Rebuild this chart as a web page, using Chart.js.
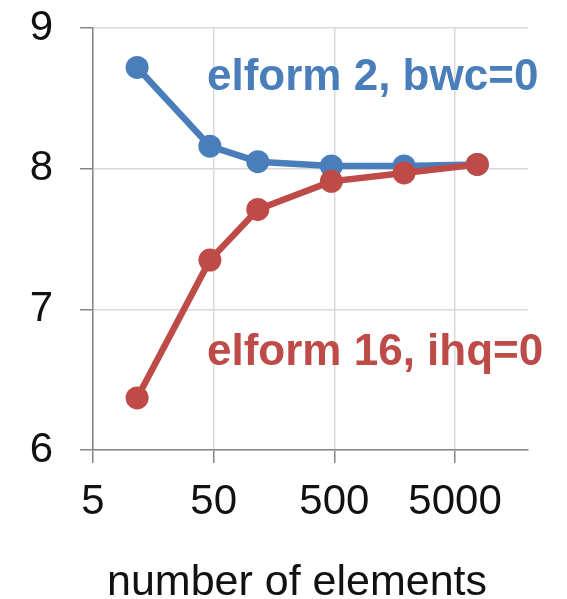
<!DOCTYPE html>
<html>
<head>
<meta charset="utf-8">
<script src="https://cdn.jsdelivr.net/npm/chart.js@4/dist/chart.umd.min.js"></script>
<style>
  body { margin: 0; background: #fff; }
  #wrap { width: 567px; height: 599px; position: relative; }
</style>
</head>
<body>
<div id="wrap"><canvas id="convChart"></canvas></div>
<script>
// mesh refinement study: number of elements vs result
const elements = [11.6, 46.5, 116, 472, 1890, 7640];
const elform2 = [8.72, 8.16, 8.05, 8.02, 8.02, 8.03];
const elform16 = [6.37, 7.35, 7.71, 7.91, 7.97, 8.03];
const xTicks = [5, 50, 500, 5000];
const yTicks = [6, 7, 8, 9];
const xTitle = 'number of elements';

const blue = '#4a7ebb';
const red = '#be4b48';
const axisGrey = '#868686';
const gridGrey = '#d9d9d9';
const font = 'Liberation Sans, Arial, sans-serif';

function pts(ys) {
    return elements.map((x, i) => ({ x: x, y: ys[i] }));
}

// series labels inside the plot, plus the x axis caption
const extraText = {
    id: 'extraText',
    afterDraw: (chart) => {
        const ctx = chart.ctx;
        ctx.save();
        ctx.textAlign = 'left';
        ctx.textBaseline = 'alphabetic';
        ctx.font = 'bold 44px ' + font;
        ctx.fillStyle = blue;
        ctx.fillText('elform 2, bwc=0', 207, 90);
        ctx.fillStyle = red;
        ctx.fillText('elform 16, ihq=0', 207, 365);

        ctx.font = '43px ' + font;
        ctx.fillStyle = '#111';
        ctx.textAlign = 'center';
        ctx.fillText(xTitle, 297, 595);
        ctx.restore();
    }
};

const ctx = document.getElementById('convChart').getContext('2d');
new Chart(ctx, {
    type: 'line',
    data: {
        datasets: [
            {
                label: 'elform 16, ihq=0',
                data: pts(elform16),
                borderColor: red,
                backgroundColor: red,
                borderWidth: 6.5,
                pointRadius: 11.5,
                pointHoverRadius: 11.5,
                pointBorderWidth: 0
            },
            {
                label: 'elform 2, bwc=0',
                data: pts(elform2),
                borderColor: blue,
                backgroundColor: blue,
                borderWidth: 6.5,
                pointRadius: 11.5,
                pointHoverRadius: 11.5,
                pointBorderWidth: 0
            }
        ]
    },
    options: {
        responsive: true,
        maintainAspectRatio: false,
        animation: false,
        layout: { padding: { top: 28, right: 39, left: 0, bottom: 0 } },
        plugins: {
            legend: { display: false },
            tooltip: { enabled: false }
        },
        scales: {
            x: {
                type: 'logarithmic',
                min: 5,
                max: 20100,
                afterBuildTicks: (scale) => {
                    scale.ticks = xTicks.map(v => ({ value: v }));
                },
                afterFit: (scale) => { scale.height = 149; },
                ticks: {
                    color: '#111',
                    font: { family: font, size: 42 },
                    padding: 14,
                    maxRotation: 0,
                    callback: (v) => String(v)
                },
                grid: {
                    color: gridGrey,
                    lineWidth: 1.5,
                    tickColor: axisGrey,
                    tickLength: 13
                },
                border: { color: axisGrey, width: 1.5 }
            },
            y: {
                min: 6,
                max: 9,
                afterBuildTicks: (scale) => {
                    scale.ticks = yTicks.map(v => ({ value: v }));
                },
                afterFit: (scale) => { scale.width = 93; },
                ticks: {
                    color: '#111',
                    font: { family: font, size: 42, lineHeight: 0.05 },
                    padding: 27
                },
                grid: {
                    color: gridGrey,
                    lineWidth: 1.5,
                    tickColor: axisGrey,
                    tickLength: 13
                },
                border: { color: axisGrey, width: 1.5 }
            }
        }
    },
    plugins: [extraText]
});
</script>
</body>
</html>
